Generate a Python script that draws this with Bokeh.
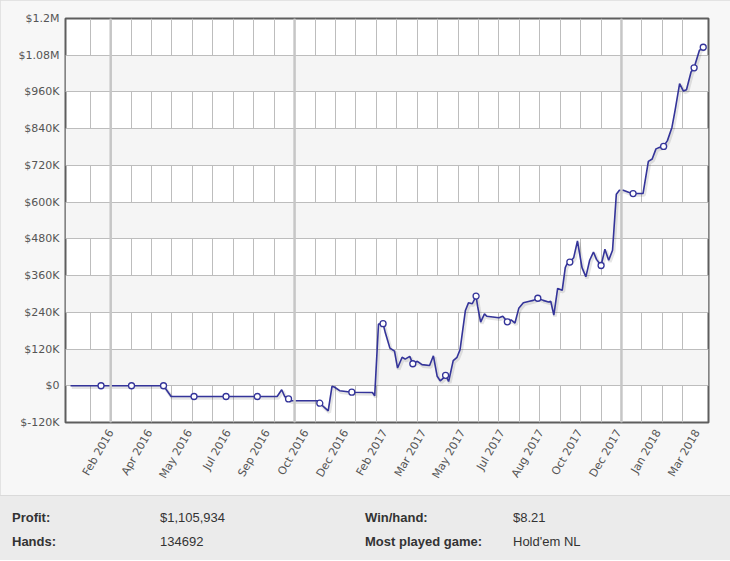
import math
from bokeh.plotting import figure
from bokeh.models import Range1d, FixedTicker, Span, Div
from bokeh.layouts import column
from bokeh.embed import file_html
from bokeh.resources import INLINE

# x: days after 10 Feb 2016; y: cumulative profit ($K)
days = [-53, -13, 27, 69, 79, 109, 151, 192, 218, 224, 228, 233, 236, 271, 274, 285,
        290, 293, 300, 316, 343, 346, 351, 357, 360, 366, 372, 376, 382, 386, 392, 396,
        402, 408, 418, 423, 428, 432, 436, 439, 443, 449, 454, 458, 465, 469, 474, 479,
        481, 485, 490, 493, 509, 514, 520, 525, 530, 535, 541, 549, 554, 560, 567, 574,
        577, 581, 586, 592, 596, 598, 602, 607, 612, 618, 623, 628, 633, 637, 643, 648,
        653, 658, 663, 667, 672, 679, 685, 698, 705, 710, 715, 720, 725, 730, 736, 740,
        746, 751, 755, 761, 765, 772, 777]
profit_k = [0, 0, 0, 0, -35, -35, -35, -35, -35, -13, -35, -43, -49, -49, -57, -82,
            -2, -4, -16, -21, -22, -33, 202, 203, 173, 123, 113, 58, 93, 87, 96, 72,
            80, 69, 66, 98, 31, 16, 25, 34, 14, 82, 93, 118, 246, 271, 268, 293,
            260, 208, 235, 227, 222, 227, 209, 215, 205, 253, 271, 276, 279, 286, 279, 274,
            276, 231, 318, 312, 386, 397, 404, 418, 473, 386, 356, 410, 437, 413, 393, 446,
            410, 443, 626, 639, 639, 632, 628, 628, 733, 741, 774, 779, 782, 801, 845, 899,
            987, 963, 967, 1025, 1039, 1096, 1106]
marker_idx = [1, 2, 3, 5, 6, 7, 11, 14, 19, 23, 31, 39, 47, 54, 61, 70, 78, 86, 92, 100, 102]

x_tick_days = [0, 51, 103, 154, 205, 256, 308, 359, 410, 461, 513, 564, 615, 666, 718, 769]
x_tick_labels = ["Feb 2016", "Apr 2016", "May 2016", "Jul 2016", "Sep 2016", "Oct 2016",
                 "Dec 2016", "Feb 2017", "Mar 2017", "May 2017", "Jul 2017", "Aug 2017",
                 "Oct 2017", "Dec 2017", "Jan 2018", "Mar 2018"]
y_ticks = [-120000, 0, 120000, 240000, 360000, 480000, 600000, 720000, 840000,
           960000, 1080000, 1200000]
y_tick_labels = ["$-120K", "$0", "$120K", "$240K", "$360K", "$480K", "$600K", "$720K",
                 "$840K", "$960K", "$1.08M", "$1.2M"]

stat_labels = ["Profit:", "Hands:", "Win/hand:", "Most played game:"]
stat_values = ["$1,105,934", "134692", "$8.21", "Hold'em NL"]

profit = [v * 1000 for v in profit_k]
mx = [days[i] for i in marker_idx]
my = [profit[i] for i in marker_idx]

# vertical grid spacing (layout)
grid_start, grid_step = -27.1, 26.8
grid_days = [grid_start + grid_step * j for j in range(30)]
thick_grid = [grid_days[1], grid_days[10], grid_days[26]]

x0, x1 = -59.6, 783.9
y0, y1 = -120000, 1200000
p = figure(width=730, height=495, x_range=Range1d(x0, x1),
           y_range=Range1d(y0, y1), output_backend="svg",
           toolbar_location=None, min_border_left=65, min_border_right=22,
           min_border_top=18, min_border_bottom=73,
           background_fill_color="white", border_fill_color="#f7f7f7")
p.styles = {"outline": "1px solid #dddddd", "outline-offset": "-1px"}

# ranges shifted by ~1px for the soft line shadow
px_x = (x1 - x0) / 643.0
px_y = (y1 - y0) / 404.0
p.extra_x_ranges = {"sh": Range1d(x0 - 1.2 * px_x, x1 - 1.2 * px_x)}
p.extra_y_ranges = {"sh": Range1d(y0 + 1.5 * px_y, y1 + 1.5 * px_y)}

p.outline_line_color = "#5e5e5e"
p.outline_line_width = 2

p.xgrid.ticker = FixedTicker(ticks=grid_days)
p.xgrid.grid_line_color = "#bdbdbd"
p.ygrid.ticker = FixedTicker(ticks=y_ticks[1:])
p.ygrid.grid_line_color = "#bdbdbd"
p.ygrid.band_fill_color = "#f5f5f5"
p.ygrid.band_fill_alpha = 1.0

for t in thick_grid:
    p.add_layout(Span(location=t, dimension="height", line_color="#c6c6c6", line_width=2.5))

p.xaxis.ticker = FixedTicker(ticks=x_tick_days)
p.xaxis.major_label_overrides = dict(zip(x_tick_days, x_tick_labels))
p.xaxis.major_label_orientation = math.pi / 3
p.yaxis.ticker = FixedTicker(ticks=y_ticks)
p.yaxis.major_label_overrides = dict(zip(y_ticks, y_tick_labels))
for ax in (p.xaxis, p.yaxis):
    ax.axis_line_color = None
    ax.major_tick_line_color = None
    ax.minor_tick_line_color = None
    ax.major_tick_out = 0
    ax.major_tick_in = 0
    ax.minor_tick_out = 0
    ax.major_label_text_font = "DejaVu Sans"
    ax.major_label_text_font_size = "11px"
    ax.major_label_text_color = "#555555"
p.xaxis.major_label_standoff = 8
p.yaxis.major_label_standoff = 6

p.line(days, profit, line_color="black", line_alpha=0.1, line_width=3.5,
       x_range_name="sh", y_range_name="sh")
p.line(days, profit, line_color="#34349a", line_width=1.6)
p.scatter(mx, my, size=6, fill_color="white", line_color="#34349a", line_width=1.3)

spans = []
cols = [(12, 160), (365, 513)]
for i, (lab, val) in enumerate(zip(stat_labels, stat_values)):
    c = cols[i // 2]
    top = 14 + 24 * (i % 2)
    spans.append(f'<span style="position:absolute;left:{c[0]}px;top:{top}px;font-weight:bold">{lab}</span>')
    spans.append(f'<span style="position:absolute;left:{c[1]}px;top:{top}px">{val}</span>')
html = ('<div style="position:relative;width:730px;height:65px;background:#ebebeb;'
        'border-top:1px solid #dadada;font-family:\'Liberation Sans\',Arial,sans-serif;'
        'font-size:13px;line-height:15px;color:#333333;">' + "".join(spans) + '</div>')
div = Div(text=html, width=730, height=66, styles={"margin": "0"})

layout = column(p, div, spacing=0)
open("out.html", "w").write(file_html(layout, INLINE))
